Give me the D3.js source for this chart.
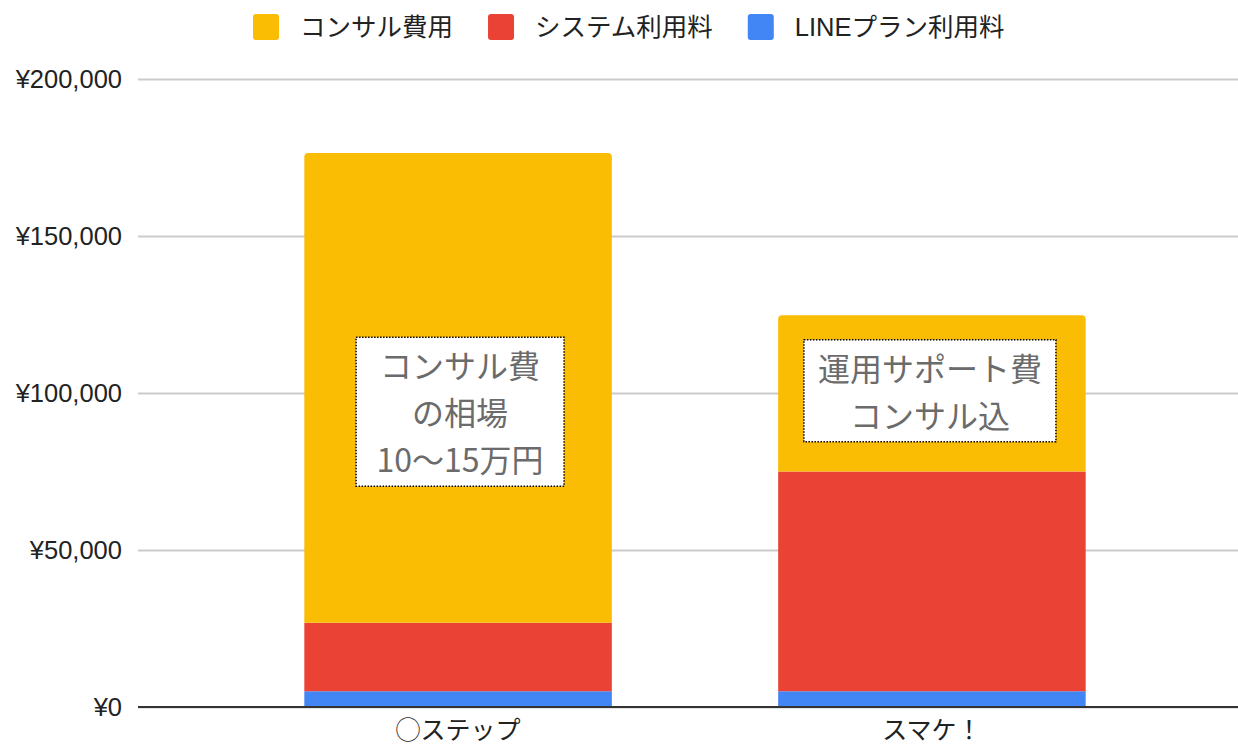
<!DOCTYPE html>
<html>
<head>
  <meta charset="utf-8">
  <title>費用比較</title>
  <style>
    body { margin: 0; background: #fff; }
    text { font-family: "Liberation Sans", Arial, "Noto Sans CJK JP", sans-serif; }
  </style>
</head>
<body>
<script src="https://cdn.jsdelivr.net/npm/d3@7/dist/d3.min.js"></script>
<script>
  // data
  var categories = ["◯ステップ", "スマケ！"];
  var lineValues = [5000, 5000];        // LINEプラン利用料
  var systemValues = [21800, 70000];    // システム利用料
  var consultValues = [149600, 49800];  // コンサル費用
  var legendNames = ["コンサル費用", "システム利用料", "LINEプラン利用料"];
  var yTicks = [0, 50000, 100000, 150000, 200000];
  var noteLines = [["コンサル費", "の相場", "10〜15万円"], ["運用サポート費", "コンサル込"]];
  var noteLevels = [94000, 100700];     // 注記の中心（金額軸上）

  var width = 1238, height = 744;
  // window.top と被らないように別名
  var plotLeft = 138, plotRight = 1238, plotTop = 79, plotBottom = 707;

  var colors = { line: "#4285f4", system: "#ea4335", consult: "#fbbc04" };
  var legendColors = [colors.consult, colors.system, colors.line];

  var svg = d3.select("body").append("svg")
    .attr("width", width)
    .attr("height", height);

  var rows = categories.map(function(c, i) {
    return { cat: c, line: lineValues[i], system: systemValues[i], consult: consultValues[i] };
  });

  var x = d3.scaleBand().domain(categories).range([plotLeft, 1252]).padding(0.351);
  var y = d3.scaleLinear().domain([0, 200000]).range([plotBottom, plotTop]);

  // grid + y labels
  var yAxis = svg.append("g")
    .attr("transform", "translate(" + plotLeft + ",0)")
    .call(d3.axisLeft(y)
      .tickValues(yTicks)
      .tickSize(-(plotRight - plotLeft))
      .tickPadding(16)
      .tickFormat(function(d) { return "¥" + d3.format(",")(d); }));
  yAxis.select(".domain").remove();
  yAxis.selectAll(".tick line").attr("stroke", "#cccccc").attr("stroke-width", 2);
  yAxis.selectAll(".tick text")
    .attr("font-size", 25.5)
    .attr("fill", "#222")
    .style("font-family", "'Liberation Sans', Arial, sans-serif");

  // stacked bars
  var stack = d3.stack().keys(["line", "system", "consult"]);
  var layers = stack(rows);

  function roundTop(x0, y0, w, h, r) {
    return "M" + x0 + "," + (y0 + h) +
      "V" + (y0 + r) +
      "Q" + x0 + "," + y0 + " " + (x0 + r) + "," + y0 +
      "H" + (x0 + w - r) +
      "Q" + (x0 + w) + "," + y0 + " " + (x0 + w) + "," + (y0 + r) +
      "V" + (y0 + h) + "Z";
  }

  layers.forEach(function(layer, li) {
    var isTop = li == layers.length - 1;
    svg.append("g").selectAll("path")
      .data(layer)
      .enter()
      .append("path")
      .attr("fill", colors[layer.key])
      .attr("d", function(d) {
        var y0 = y(d[1]), h = y(d[0]) - y(d[1]);
        return roundTop(x(d.data.cat), y0, x.bandwidth(), h, isTop ? 4 : 0);
      });
  });

  // baseline
  svg.append("line")
    .attr("x1", plotLeft).attr("x2", plotRight)
    .attr("y1", y(0)).attr("y2", y(0))
    .attr("stroke", "#333").attr("stroke-width", 2);

  // x labels
  svg.append("g").selectAll("text")
    .data(categories)
    .enter()
    .append("text")
    .attr("x", function(d) { return x(d) + x.bandwidth() / 2; })
    .attr("y", plotBottom + 32)
    .attr("text-anchor", "middle")
    .attr("font-size", 25)
    .attr("fill", "#222")
    .style("font-family", "'Noto Sans CJK JP', sans-serif")
    .text(function(d) { return d; });

  // 注記ボックス
  var lh = 47;
  noteLines.forEach(function(lines, i) {
    var cx = x(categories[i]) + x.bandwidth() / 2 + (i == 0 ? 2 : -2);
    var cy = y(noteLevels[i]);
    var g = svg.append("g");
    var box = g.append("rect");
    var t = g.selectAll("text")
      .data(lines)
      .enter()
      .append("text")
      .attr("x", cx)
      .attr("y", function(d, k) { return cy + 2 + (k - (lines.length - 1) / 2) * lh; })
      .attr("dy", "0.36em")
      .attr("text-anchor", "middle")
      .attr("font-size", 32)
      .attr("fill", "#6b6b6b")
      .style("font-family", "'Noto Sans CJK JP', sans-serif")
      .text(function(d) { return d; });
    var w = 0;
    t.each(function() { w = Math.max(w, this.getComputedTextLength()); });
    var bw = Math.max(w + 28, 208), bh = lines.length * lh + 8;
    box.attr("x", cx - bw / 2)
      .attr("y", cy - bh / 2)
      .attr("width", bw)
      .attr("height", bh)
      .attr("fill", "#fff")
      .attr("stroke", "#000")
      .attr("stroke-width", 1.5)
      .attr("stroke-dasharray", "1.5,1.5");
  });

  // legend
  var lx = 253;
  var legend = svg.append("g");
  legendNames.forEach(function(name, i) {
    legend.append("rect")
      .attr("x", lx).attr("y", 14)
      .attr("width", 26).attr("height", 26)
      .attr("rx", 3)
      .attr("fill", legendColors[i]);
    var txt = legend.append("text")
      .attr("x", lx + 47)
      .attr("y", 27)
      .attr("dy", "0.36em")
      .attr("font-size", 25.5)
      .attr("fill", "#222")
      .style("font-family", "'Liberation Sans', 'Noto Sans CJK JP', sans-serif")
      .text(name);
    lx = lx + 47 + txt.node().getComputedTextLength() + 35;
  });
</script>
</body>
</html>
